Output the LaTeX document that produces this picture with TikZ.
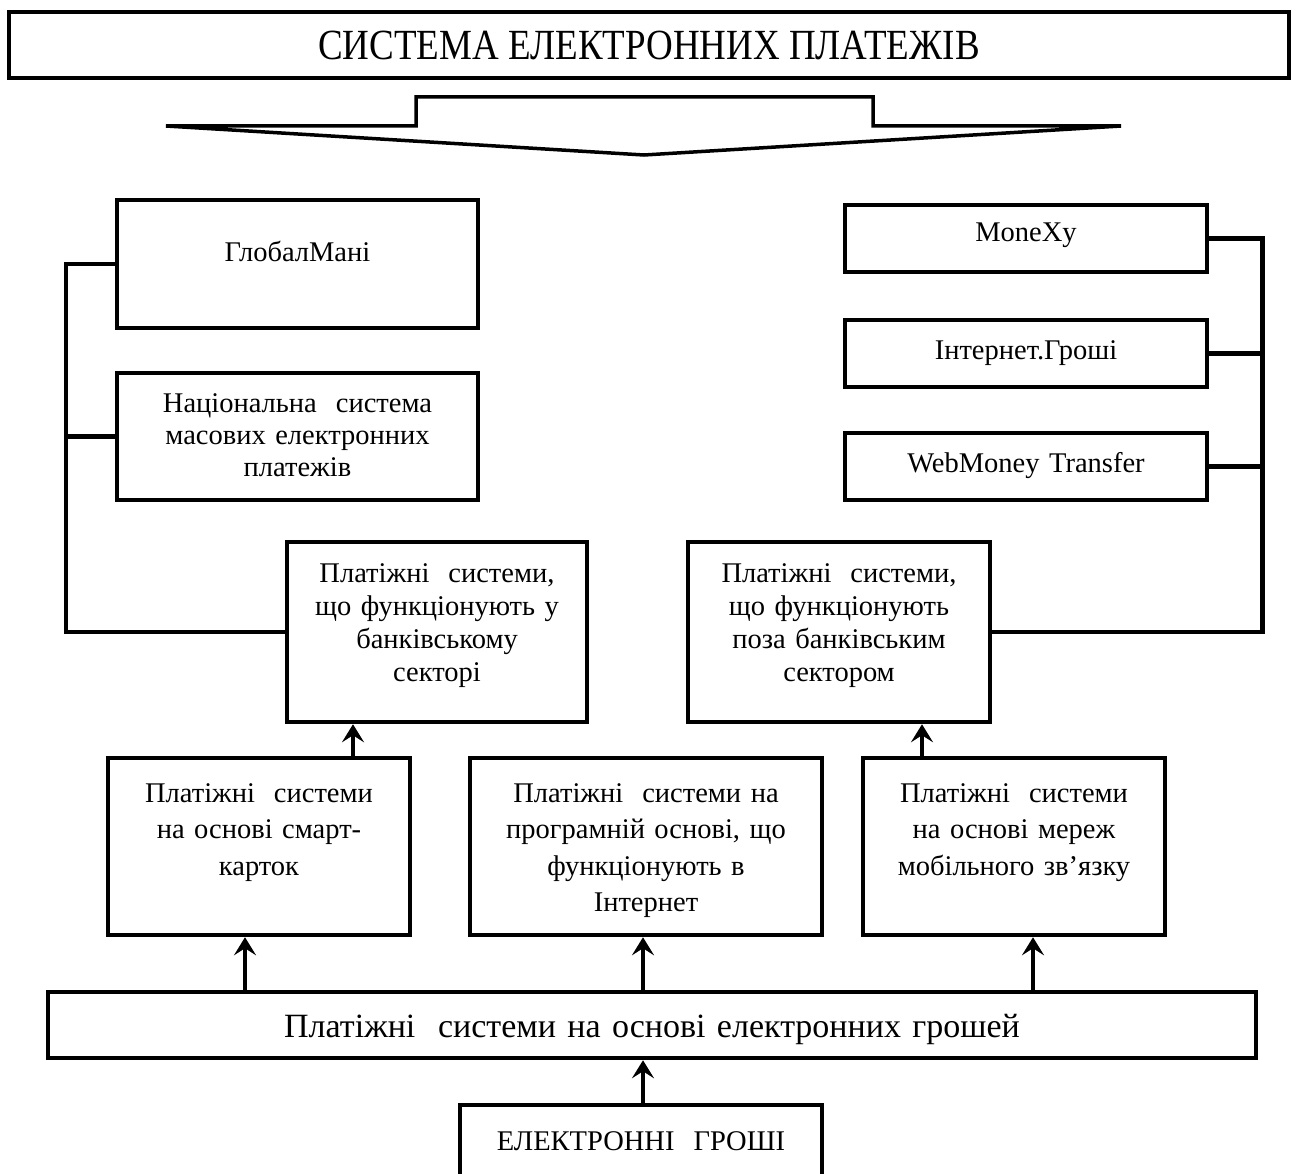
\documentclass[tikz,border=0pt]{standalone}
\usepackage{fontspec}
\setmainfont{Liberation Serif}
\usepackage{graphicx}
\usetikzlibrary{arrows.meta}
\begin{document}
\begin{tikzpicture}[x=1pt,y=-1pt, line join=miter,
  box/.style={draw, line width=4.5pt, inner sep=0pt, fill=white},
  txt/.style={align=center, inner sep=0pt, anchor=base, font=\fontsize{28.5}{33}\selectfont},
  link/.style={line width=4.5pt},
  arr/.style={line width=4pt, -{Stealth[length=18pt,width=22pt,inset=7pt]}}]
\useasboundingbox (0,0) rectangle (1298,1174);
\clip (0,0) rectangle (1298,1174);

% title
\node[box, minimum width=1280pt, minimum height=66pt, font=\fontsize{43}{46}\selectfont] (title) at (649,45) {\scalebox{0.86}[1]{СИСТЕМА ЕЛЕКТРОННИХ ПЛАТЕЖІВ}};
% big arrow shape
\draw[line width=3.5pt] (416,126) -- (416,97) -- (873,97) -- (873,126) -- (1121,126) -- (644,155) -- (166,126) -- cycle;

% boxes
\node[box, minimum width=361pt, minimum height=128pt] (glob) at (297.5,264) {};
\node[box, minimum width=361pt, minimum height=127pt] (nat) at (297.5,436.5) {};
\node[box, minimum width=300pt, minimum height=180pt] (bank) at (437,632) {};
\node[box, minimum width=302pt, minimum height=180pt] (nonbank) at (839,632) {};
\node[box, minimum width=362pt, minimum height=67pt] (monexy) at (1026,238.5) {};
\node[box, minimum width=362pt, minimum height=67pt] (inet) at (1026,353.5) {};
\node[box, minimum width=362pt, minimum height=67pt] (webm) at (1026,466.5) {};
\node[box, minimum width=302pt, minimum height=177pt] (sc) at (259,846.5) {};
\node[box, minimum width=352pt, minimum height=177pt] (prog) at (646,846.5) {};
\node[box, minimum width=302pt, minimum height=177pt] (mob) at (1014,846.5) {};
\node[box, minimum width=1208pt, minimum height=66pt] (bar) at (652,1025) {};
\node[box, minimum width=362pt, minimum height=80pt] (em) at (641,1145) {};

% texts
\node[txt, text width=350pt] (glob-t) at (297.5,262) {ГлобалМані};
\node[txt, text width=350pt, font=\fontsize{28.5}{32}\selectfont] (nat-t) at (297.5,412) {Національна\ \ система\\масових електронних\\платежів};
\node[txt, text width=290pt] (bank-t) at (437,582) {Платіжні\ \ системи,\\що функціонують у\\банківському\\секторі};
\node[txt, text width=290pt] (nonbank-t) at (839,582) {Платіжні\ \ системи,\\що функціонують\\поза банківським\\сектором};
\node[txt, text width=350pt] (monexy-t) at (1026,242) {MoneXy};
\node[txt, text width=350pt] (inet-t) at (1026,359) {Інтернет.Гроші};
\node[txt, text width=350pt] (webm-t) at (1026,472) {WebMoney Transfer};
\node[txt, text width=292pt, font=\fontsize{28.5}{36.5}\selectfont] (sc-t) at (259,802) {Платіжні\ \ системи\\на основі смарт-\\карток};
\node[txt, text width=342pt, font=\fontsize{28.5}{36.5}\selectfont] (prog-t) at (646,802) {Платіжні\ \ системи на\\програмній основі, що\\функціонують в\\Інтернет};
\node[txt, text width=292pt, font=\fontsize{28.5}{36.5}\selectfont] (mob-t) at (1014,802) {Платіжні\ \ системи\\на основі мереж\\мобільного зв’язку};
\node[txt, text width=1190pt, font=\fontsize{34}{36}\selectfont] (bar-t) at (652,1037) {Платіжні\ \ системи на основі електронних грошей};
\node[txt, text width=350pt] (em-t) at (641,1150) {ЕЛЕКТРОННІ\ \ ГРОШІ};

% connectors left
\draw[link] (glob.west) -- ++(-49,0) coordinate (lt) |- (bank.west);
\draw[link] (nat.west) -- (nat.west -| lt);
% connectors right
\draw[link] (monexy.east) -- ++(53,0) coordinate (rt) |- (nonbank.east);
\draw[link] (inet.east) -- (inet.east -| rt);
\draw[link] (webm.east) -- (webm.east -| rt);

% arrows
\coordinate (x1) at (353,0);
\coordinate (x2) at (922,0);
\coordinate (x3) at (245,0);
\coordinate (x4) at (643,0);
\coordinate (x5) at (1033,0);
\draw[arr] (sc.north -| x1) -- (bank.south -| x1);
\draw[arr] (mob.north -| x2) -- (nonbank.south -| x2);
\draw[arr] (bar.north -| x3) -- (sc.south -| x3);
\draw[arr] (bar.north -| x4) -- (prog.south -| x4);
\draw[arr] (bar.north -| x5) -- (mob.south -| x5);
\draw[arr] (em.north -| x4) -- (bar.south -| x4);
\end{tikzpicture}
\end{document}
